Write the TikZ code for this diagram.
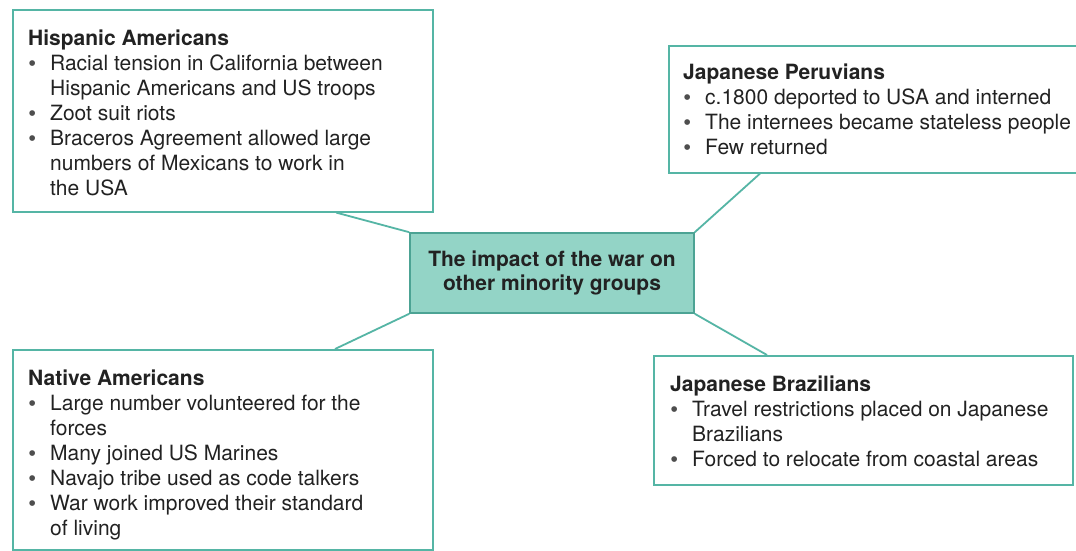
\documentclass[tikz,border=0pt]{standalone}
\usepackage{fontspec}
\usepackage{graphicx}
\setmainfont{TeX Gyre Heros}
\newfontfamily\bulfont{Liberation Sans}
\usetikzlibrary{calc}
\definecolor{tealline}{HTML}{55B5A5}
\definecolor{tealfill}{HTML}{93D4C6}
\definecolor{ink}{HTML}{222222}
\tikzset{
  box/.style={draw=tealline, line width=1.6pt, fill=white, anchor=north west, inner sep=0pt},
  hub/.style={draw=tealline!90!black, line width=1.6pt, fill=tealfill, inner sep=0pt, align=center,
    font=\bfseries\fontsize{21}{24.5}\selectfont, text=ink},
  txt/.style={anchor=north west, inner sep=0pt, align=left, text=ink, font=\fontsize{21}{25}\selectfont},
  link/.style={draw=tealline, line width=1.8pt},
}
\newcommand{\mybul}{\makebox[22pt][l]{\hspace{0.5pt}{\bulfont\textcolor{ink!80}{\textbullet}}}}
\newcommand{\myind}{\hspace*{22pt}}
\begin{document}
\begin{tikzpicture}[x=1pt,y=-1pt]
\clip (0,0) rectangle (1076,551);
\fill[white] (0,0) rectangle (1076,551);

% boxes
\node[box, minimum width=420pt, minimum height=202pt] (hisp) at (12,9) {};
\node[box, minimum width=424pt, minimum height=127pt] (peru) at (668,45) {};
\node[box, minimum width=420pt, minimum height=200pt] (native) at (12,349) {};
\node[box, minimum width=419pt, minimum height=129pt] (braz) at (653,355) {};
\node[hub, minimum width=284pt, minimum height=80pt] (hub) at (552,273) {The impact of the war on\\other minority groups};

% connectors
\draw[link] ($(hisp.south west)!0.769!(hisp.south east)$) -- (hub.north west);
\draw[link] ([xshift=92pt]peru.south west) -- (hub.north east);
\draw[link] ([xshift=323pt]native.north west) -- (hub.south west);
\draw[link] ([xshift=114pt]braz.north west) -- (hub.south east);

% texts
\node[txt] (hispt) at (28,29.5) {\textbf{Hispanic Americans}\\
\mybul Racial tension in California between\\
\myind Hispanic Americans and US troops\\
\mybul Zoot suit riots\\
\mybul Braceros Agreement allowed large\\
\myind numbers of Mexicans to work in\\
\myind the USA};

\node[txt] (perut) at (683,64) {\textbf{Japanese Peruvians}\\
\mybul c.1800 deported to USA and interned\\
\mybul The internees became stateless people\\
\mybul Few returned};

\node[txt] (nativet) at (28,370) {\textbf{Native Americans}\\
\mybul Large number volunteered for the\\
\myind forces\\
\mybul Many joined US Marines\\
\mybul Navajo tribe used as code talkers\\
\mybul War work improved their standard\\
\myind of living};

\node[txt] (brazt) at (670,376) {\textbf{Japanese Brazilians}\\
\mybul Travel restrictions placed on Japanese\\
\myind Brazilians\\
\mybul Forced to relocate from coastal areas};
\end{tikzpicture}
\end{document}
